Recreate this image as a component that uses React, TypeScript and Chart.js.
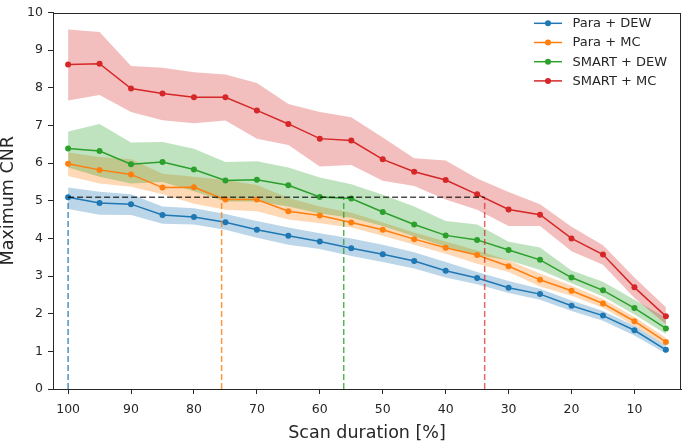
import React, { useEffect, useRef } from 'react';
import { Chart, registerables } from 'chart.js';
Chart.register(...registerables);

const scanDuration = [100, 95, 90, 85, 80, 75, 70, 65, 60, 55, 50, 45, 40, 35, 30, 25, 20, 15, 10, 5];

const paraDewMean = [5.09, 4.94, 4.91, 4.62, 4.57, 4.43, 4.23, 4.07, 3.92, 3.74, 3.58, 3.40, 3.14, 2.95, 2.69, 2.52, 2.21, 1.95, 1.56, 1.04];
const paraDewUpper = [5.35, 5.24, 5.17, 4.85, 4.80, 4.65, 4.46, 4.29, 4.14, 4.00, 3.83, 3.63, 3.37, 3.11, 2.87, 2.66, 2.35, 2.07, 1.68, 1.16];
const paraDewLower = [4.78, 4.63, 4.62, 4.39, 4.37, 4.23, 4.02, 3.83, 3.72, 3.53, 3.37, 3.20, 2.96, 2.78, 2.55, 2.37, 2.07, 1.81, 1.42, 0.94];

const paraMcMean = [5.98, 5.82, 5.70, 5.35, 5.36, 5.03, 5.03, 4.72, 4.61, 4.42, 4.23, 3.98, 3.75, 3.56, 3.26, 2.90, 2.61, 2.27, 1.80, 1.25];
const paraMcUpper = [6.28, 6.16, 6.10, 5.72, 5.64, 5.55, 5.42, 5.07, 4.85, 4.68, 4.42, 4.16, 3.92, 3.68, 3.42, 3.07, 2.74, 2.39, 1.91, 1.36];
const paraMcLower = [5.66, 5.46, 5.37, 5.17, 4.92, 4.76, 4.72, 4.50, 4.40, 4.29, 4.07, 3.83, 3.59, 3.33, 3.11, 2.72, 2.48, 2.16, 1.68, 1.16];

const smartDewMean = [6.39, 6.32, 5.97, 6.03, 5.83, 5.54, 5.56, 5.41, 5.10, 5.06, 4.70, 4.37, 4.08, 3.96, 3.69, 3.43, 2.96, 2.62, 2.15, 1.61];
const smartDewUpper = [6.84, 7.04, 6.55, 6.56, 6.38, 6.03, 6.05, 5.88, 5.62, 5.44, 5.16, 4.85, 4.46, 4.37, 3.91, 3.76, 3.15, 2.85, 2.37, 1.89];
const smartDewLower = [5.88, 5.64, 5.46, 5.50, 5.25, 4.98, 4.98, 4.85, 4.66, 4.55, 4.33, 4.05, 3.78, 3.55, 3.42, 3.16, 2.81, 2.46, 1.98, 1.46];

const smartMcMean = [8.62, 8.64, 7.98, 7.85, 7.75, 7.75, 7.40, 7.04, 6.65, 6.60, 6.10, 5.77, 5.55, 5.17, 4.77, 4.63, 4.00, 3.57, 2.70, 1.93];
const smartMcUpper = [9.55, 9.48, 8.58, 8.53, 8.41, 8.35, 8.13, 7.57, 7.36, 7.22, 6.68, 6.13, 6.07, 5.59, 5.23, 4.91, 4.31, 3.82, 2.96, 2.17];
const smartMcLower = [7.66, 7.81, 7.36, 7.14, 7.06, 7.13, 6.65, 6.48, 5.91, 5.95, 5.53, 5.39, 5.03, 4.76, 4.33, 4.33, 3.66, 3.30, 2.42, 1.72];

const seriesLabels = ['Para + DEW', 'Para + MC', 'SMART + DEW', 'SMART + MC'];
const seriesColors = ['#1f77b4', '#ff7f0e', '#2ca02c', '#d62728'];
const bandColors = ['rgba(31,119,180,0.3)', 'rgba(255,127,14,0.3)', 'rgba(44,160,44,0.3)', 'rgba(214,39,40,0.3)'];
const dashColors = ['rgba(31,119,180,0.8)', 'rgba(255,127,14,0.8)', 'rgba(44,160,44,0.8)', 'rgba(214,39,40,0.7)'];

const thresholdCNR = 5.09;
const thresholdScan = [100, 75.6, 56.2, 33.8];

const xTicks = [100, 90, 80, 70, 60, 50, 40, 30, 20, 10];
const yTicks = [0, 1, 2, 3, 4, 5, 6, 7, 8, 9, 10];

const FONT = "'DejaVu Sans', sans-serif";
const INK = '#262626';

const toPts = (arr: number[]) => scanDuration.map((x, i) => ({ x, y: arr[i] }));

const frameLegendPlugin = {
  id: 'frameLegend',
  afterDraw(chart: any) {
    const { ctx, chartArea } = chart;
    ctx.save();
    ctx.strokeStyle = INK;
    ctx.lineWidth = 1;
    ctx.strokeRect(Math.round(chartArea.left) + 0.5, Math.round(chartArea.top) + 0.5,
      Math.round(chartArea.right - chartArea.left) - 1, Math.round(chartArea.bottom - chartArea.top) - 1);
    ctx.font = `13px ${FONT}`;
    ctx.textBaseline = 'middle';
    ctx.textAlign = 'left';
    const x0 = 534;
    const y0 = 23.3;
    const dy = 19.2;
    seriesLabels.forEach((label, i) => {
      const y = y0 + i * dy;
      ctx.strokeStyle = seriesColors[i];
      ctx.lineWidth = 1.5;
      ctx.beginPath();
      ctx.moveTo(x0, y);
      ctx.lineTo(x0 + 28, y);
      ctx.stroke();
      ctx.fillStyle = seriesColors[i];
      ctx.beginPath();
      ctx.arc(x0 + 14, y, 3, 0, Math.PI * 2);
      ctx.fill();
      ctx.fillStyle = INK;
      ctx.fillText(label, x0 + 38.5, y + 0.5);
    });
    ctx.restore();
  },
};

export default function App() {
  const ref = useRef<HTMLCanvasElement>(null);
  useEffect(() => {
    document.body.style.margin = '0';
    const means = [paraDewMean, paraMcMean, smartDewMean, smartMcMean];
    const uppers = [paraDewUpper, paraMcUpper, smartDewUpper, smartMcUpper];
    const lowers = [paraDewLower, paraMcLower, smartDewLower, smartMcLower];

    const datasets: any[] = [];
    datasets.push({
      data: [{ x: thresholdScan[0], y: thresholdCNR }, { x: thresholdScan[3], y: thresholdCNR }],
      borderColor: 'rgba(0,0,0,0.7)', borderWidth: 1.5, borderDash: [6, 3], pointRadius: 0, fill: false,
    });
    thresholdScan.forEach((s, i) => {
      datasets.push({
        data: [{ x: s, y: 0 }, { x: s, y: thresholdCNR }],
        borderColor: dashColors[i], borderWidth: 1.5, borderDash: [6, 3], pointRadius: 0, fill: false,
      });
    });
    for (let i = 3; i >= 0; i--) {
      datasets.push({
        label: seriesLabels[i],
        data: toPts(means[i]),
        borderColor: seriesColors[i], backgroundColor: seriesColors[i],
        borderWidth: 1.5, pointRadius: 3, pointBorderWidth: 0, pointBackgroundColor: seriesColors[i],
        fill: false, tension: 0,
      });
    }
    for (let i = 3; i >= 0; i--) {
      const upperIndex = datasets.length;
      datasets.push({
        data: toPts(uppers[i]), borderWidth: 0, borderColor: 'transparent', pointRadius: 0, fill: false,
      });
      datasets.push({
        data: toPts(lowers[i]), borderWidth: 0, borderColor: 'transparent', pointRadius: 0,
        fill: upperIndex, backgroundColor: bandColors[i],
      });
    }

    const chart = new Chart(ref.current!, {
      type: 'line',
      data: { datasets },
      plugins: [frameLegendPlugin],
      options: {
        animation: false,
        responsive: false,
        devicePixelRatio: 1,
        layout: { padding: { top: 5, right: 3, left: 0, bottom: 0 } },
        plugins: {
          legend: { display: false },
          tooltip: { enabled: false },
          filler: { drawTime: 'beforeDatasetsDraw', propagate: false },
        },
        scales: {
          x: {
            type: 'linear',
            reverse: true,
            min: 2.6,
            max: 102.4,
            afterBuildTicks: (axis: any) => { axis.ticks = xTicks.map((v) => ({ value: v })); },
            afterFit: (s: any) => { s.height = 56; },
            ticks: { font: { family: FONT, size: 12.5 }, color: INK, padding: 8, maxRotation: 0, autoSkip: false },
            grid: { drawOnChartArea: false, drawTicks: true, tickLength: 5, color: INK },
            border: { display: true, color: INK, width: 1 },
            title: { display: true, text: 'Scan duration [%]', font: { family: FONT, size: 17.5, lineHeight: 1.2 }, color: INK, padding: { top: 1, bottom: 1 } },
          },
          y: {
            type: 'linear',
            min: 0,
            max: 10,
            afterBuildTicks: (axis: any) => { axis.ticks = yTicks.map((v) => ({ value: v })); },
            afterFit: (s: any) => { s.width = 53; },
            ticks: { font: { family: FONT, size: 12.5 }, color: INK, padding: 5 },
            grid: { drawOnChartArea: false, drawTicks: true, tickLength: 5, color: INK },
            border: { display: true, color: INK, width: 1 },
            title: { display: true, text: 'Maximum CNR', font: { family: FONT, size: 17.5, lineHeight: 1 }, color: INK, padding: 0 },
          },
        },
      } as any,
    });
    return () => chart.destroy();
  }, []);
  return (
    <div style={{ width: 685, height: 445 }}>
      <canvas ref={ref} width={685} height={445} style={{ display: 'block' }} />
    </div>
  );
}
